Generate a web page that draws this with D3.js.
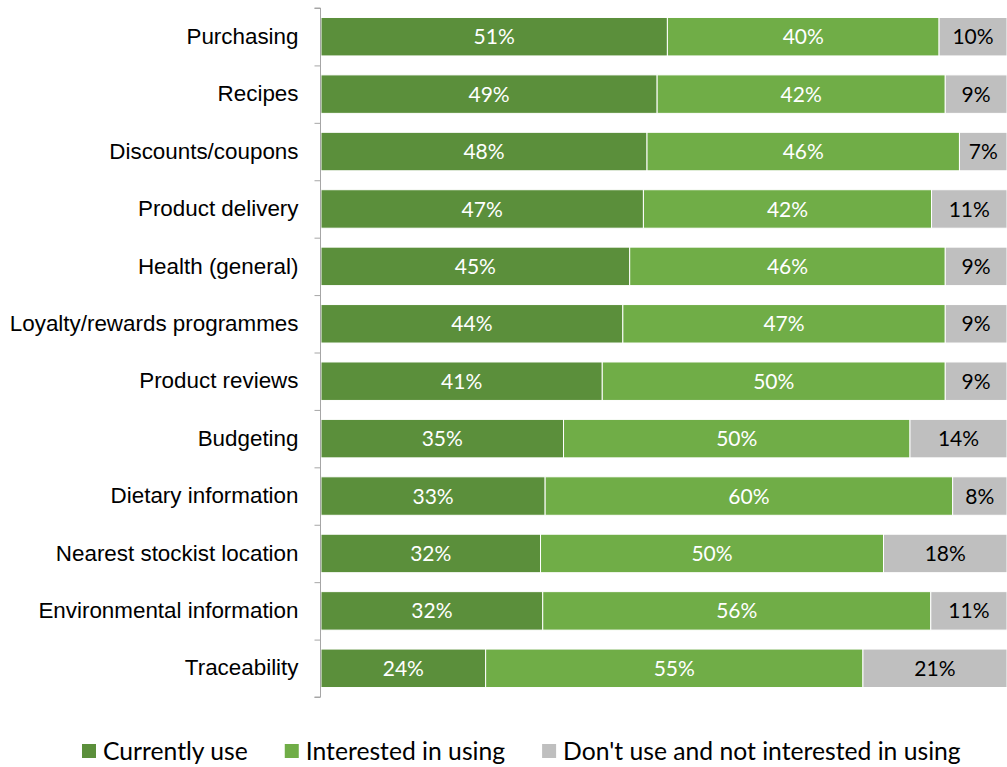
<!DOCTYPE html>
<html>
<head>
<meta charset="utf-8">
<script src="https://cdn.jsdelivr.net/npm/d3@7"></script>
<style>
  html, body { margin: 0; padding: 0; background: #fff; }
  svg { display: block; font-family: Lato, "Open Sans", sans-serif; }
</style>
</head>
<body>
<svg id="chart" width="1007" height="767"></svg>
<script>
// Channel usage, share of respondents (%)
const categories = [
  "Purchasing", "Recipes", "Discounts/coupons", "Product delivery",
  "Health (general)", "Loyalty/rewards programmes", "Product reviews",
  "Budgeting", "Dietary information", "Nearest stockist location",
  "Environmental information", "Traceability"
];
const currentlyUse    = [51, 49, 48, 47, 45, 44, 41, 35, 33, 32, 32, 24];
const interestedUsing = [40, 42, 46, 42, 46, 47, 50, 50, 60, 50, 56, 55];
const notInterested   = [10,  9,  7, 11,  9,  9,  9, 14,  8, 18, 11, 21];
const seriesNames = ["Currently use", "Interested in using", "Don't use and not interested in using"];
const seriesColors = ["#5B8F3B", "#70AD47", "#BFBFBF"];
const labelColors = ["#ffffff", "#ffffff", "#000000"];

const rows = categories.map((c, i) => ({
  cat: c, s0: currentlyUse[i], s1: interestedUsing[i], s2: notInterested[i]
}));
const keys = ["s0", "s1", "s2"];

const svg = d3.select("#chart");
const margin = { left: 321, right: 0, top: 8, bottom: 70 };
const W = 1007, H = 767;

const x = d3.scaleLinear().domain([0, 1]).range([margin.left, W - margin.right]);
const y = d3.scaleBand().domain(categories)
  .range([margin.top, H - margin.bottom]).paddingInner(0.33).paddingOuter(0.165);

const stacked = d3.stack().keys(keys).offset(d3.stackOffsetExpand)(rows);

const layers = svg.append("g").selectAll("g").data(stacked).join("g")
  .attr("fill", (d, i) => seriesColors[i]);

layers.selectAll("rect").data(d => d).join("rect")
  .attr("x", d => x(d[0]))
  .attr("y", d => y(d.data.cat))
  .attr("width", d => x(d[1]) - x(d[0]))
  .attr("height", y.bandwidth())
  .attr("stroke", "#fff")
  .attr("stroke-width", 1);

// value labels centred in each segment
stacked.forEach((layer, i) => {
  svg.append("g").selectAll("text").data(layer).join("text")
    .attr("x", d => (x(d[0]) + x(d[1])) / 2)
    .attr("y", d => y(d.data.cat) + y.bandwidth() / 2)
    .attr("dy", "0.36em")
    .attr("text-anchor", "middle")
    .attr("fill", labelColors[i])
    .style("font-size", "21px")
    .text(d => d.data[layer.key] + "%");
});

// category axis
const yAxis = d3.axisLeft(y).tickSize(0).tickPadding(22);
const gy = svg.append("g").attr("transform", `translate(${margin.left - 0.5},0)`).call(yAxis);
gy.select(".domain").attr("stroke", "#A6A6A6").attr("d", `M-6,${margin.top}H0V${H - margin.bottom}H-6`);
gy.selectAll(".tick text").attr("fill", "#000").style("font-size", "22.4px");

// boundary ticks between categories
const step = y.step();
const bounds = d3.range(categories.length + 1).map(i => margin.top + i * step);
gy.append("g").selectAll("line").data(bounds).join("line")
  .attr("x1", -6).attr("x2", 0)
  .attr("y1", d => d + 0.5).attr("y2", d => d + 0.5)
  .attr("stroke", "#A6A6A6");

// legend
const legend = svg.append("g").attr("transform", "translate(82,744)");
let lx = 0;
seriesNames.forEach((name, i) => {
  const g = legend.append("g").attr("transform", `translate(${lx},0)`);
  g.append("rect").attr("width", 14).attr("height", 14).attr("fill", seriesColors[i]);
  const t = g.append("text").attr("x", 21).attr("y", 7).attr("dy", "0.36em")
    .style("font-size", "24.7px").attr("fill", "#000").text(name);
  lx += 21 + t.node().getComputedTextLength() + 37;
});
</script>
</body>
</html>
